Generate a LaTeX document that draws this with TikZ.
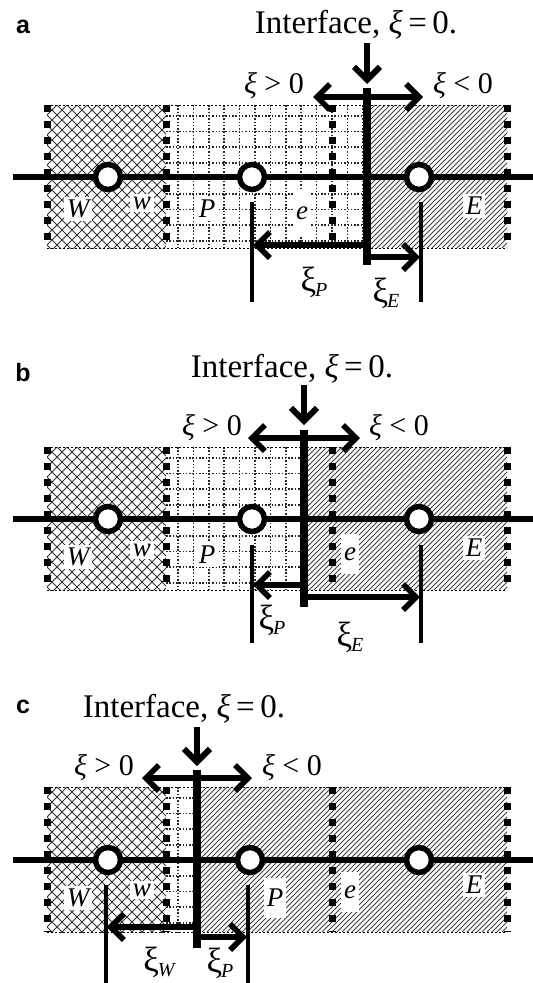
\documentclass[tikz,border=0pt]{standalone}
\usepackage{fontspec}
\setmainfont{Liberation Serif}
\newfontfamily\panelfont{Liberation Sans}
\usetikzlibrary{arrows.meta}

\newcommand\xiit{{\itshape ξ}}
\newcommand\xisub[1]{ξ\kern-1pt\raisebox{-5pt}{\fontsize{20}{20}\selectfont\itshape #1}}

% x1 y1 x2 y2 (y1 = top)
\newcommand\crossfill[4]{%
  \begin{scope}
    \clip (#1,#2) rectangle (#3,#4);
    \fill[white] (#1,#2) rectangle (#3,#4);
    \foreach \k in {-160,-150,...,300}{
      \draw[crossline] (#1+\k,#2) -- ++(160,160);
      \draw[crossline] (#1+\k,#2) -- ++(-160,160);
    }
  \end{scope}}
\newcommand\hatchfill[4]{%
  \begin{scope}
    \clip (#1,#2) rectangle (#3,#4);
    \fill[white] (#1,#2) rectangle (#3,#4);
    \foreach \k in {-160,-155,...,400}{
      \draw[hatchline] (#1+\k,#4) -- ++(170,-170);
    }
  \end{scope}}
\newcommand\gridfill[4]{%
  \begin{scope}
    \clip (#1,#2) rectangle (#3,#4);
    \fill[white] (#1,#2) rectangle (#3,#4);
    \foreach \i in {0,...,14}{
      \draw[gridline] (#1+12+15.4*\i,#2) -- ++(0,160);
    }
    \foreach \j in {0,...,8}{
      \draw[gridline] (#1,#2+11+15.6*\j) -- (#3,#2+11+15.6*\j);
    }
  \end{scope}}
\newcommand\faces[2]{% top bottom
  \draw[edgeline] (47,#1) -- (507,#1);
  \draw[edgeline] (47,#2) -- (507,#2);
  \foreach \fx in {47,166,332,507}{
    \draw[face] (\fx,#1) -- (\fx,#2);
  }}

\begin{document}
\begin{tikzpicture}[x=1pt,y=-1pt,
  >={Straight Barb[length=13pt,width=26pt]},
  mainline/.style={line width=6.5pt},
  ifline/.style={line width=8pt},
  arrline/.style={line width=5.5pt,->},
  darrline/.style={line width=5.5pt,<->},
  downarr/.style={line width=6pt,->},
  thinline/.style={line width=3.2pt},
  cnode/.style={circle,draw,line width=5.5pt,fill=white,minimum size=25pt,inner sep=0pt},
  lab/.style={fill=white,inner sep=3pt,font=\fontsize{27}{27}\selectfont\itshape},
  sublab/.style={inner sep=1pt,font=\fontsize{35}{35}\selectfont},
  ttl/.style={inner sep=0pt,font=\fontsize{33}{33}\selectfont,anchor=base},
  panellab/.style={inner sep=0pt,font=\fontsize{25}{25}\selectfont\panelfont\bfseries},
  signlab/.style={fill=white,inner sep=1pt,font=\fontsize{30}{30}\selectfont,anchor=base},
  face/.style={line width=7pt,dash pattern=on 7pt off 9pt},
  edgeline/.style={line width=0.8pt,dash pattern=on 2pt off 2pt},
  hatchline/.style={line width=1.0pt,black!75},
  crossline/.style={line width=0.8pt,black!80},
  gridline/.style={line width=1.5pt,black!85,dash pattern=on 1.5pt off 1.8pt},
]
\useasboundingbox (0,0) rectangle (533,983);
\fill[white] (0,0) rectangle (533,983);

%% ---------------- panel a ----------------
\crossfill{47}{105}{166}{248}
\gridfill{166}{105}{367}{248}
\hatchfill{367}{105}{507}{248}
\faces{105}{248}
\coordinate (aL) at (13,177);
\coordinate (aR) at (533,177);
\draw[mainline] (aL) -- (aR);
\coordinate (aIt) at (367,88);
\coordinate (aIb) at (367,265);
\draw[ifline] (aIt) -- (aIb);
\node[cnode] (aW) at (108,177) {};
\node[cnode] (aP) at (252,177) {};
\node[cnode] (aE) at (419,177) {};
\node[lab] (aWl) at (78,209) {W};
\node[lab] (awl) at (142,203) {w};
\node[lab] (aPl) at (207,209) {P};
\node[lab,minimum height=44pt] (ael) at (302,213) {e};
\node[lab] (aEl) at (474,206) {E};
\coordinate (aPv1) at (252,202);
\coordinate (aPv2) at (252,302);
\coordinate (aEv1) at (421,202);
\coordinate (aEv2) at (421,302);
\draw[thinline] (aPv1) -- (aPv2);
\draw[thinline] (aEv1) -- (aEv2);
\node[panellab] (alab) at (23,27) {a};
\node[ttl] (attl) at (356,33) {Interface, \xiit\,=\,0.};
\coordinate (aDa) at (367,43);
\coordinate (aDb) at (367,84);
\draw[downarr] (aDa) -- (aDb);
\node[signlab] (agt) at (274,93) {\xiit{} > 0};
\node[signlab] (alt) at (463,93) {\xiit{} < 0};
\coordinate (aAl) at (313,97);
\coordinate (aAr) at (423,97);
\draw[darrline] (aAl) -- (aAr);
\coordinate (aXp1) at (367,245);
\coordinate (aXp2) at (253,245);
\draw[arrline] (aXp1) -- (aXp2);
\coordinate (aXe1) at (367,257);
\coordinate (aXe2) at (420,257);
\draw[arrline] (aXe1) -- (aXe2);
\node[sublab] (axp) at (314,282) {\xisub{P}};
\node[sublab] (axe) at (386,293) {\xisub{E}};

%% ---------------- panel b ----------------
\crossfill{47}{447}{166}{590}
\gridfill{166}{447}{304}{590}
\hatchfill{304}{447}{507}{590}
\faces{447}{590}
\coordinate (bL) at (13,519);
\coordinate (bR) at (533,519);
\draw[mainline] (bL) -- (bR);
\coordinate (bIt) at (304,430);
\coordinate (bIb) at (304,607);
\draw[ifline] (bIt) -- (bIb);
\node[cnode] (bW) at (108,519) {};
\node[cnode] (bP) at (252,519) {};
\node[cnode] (bE) at (419,519) {};
\node[lab] (bWl) at (78,557) {W};
\node[lab] (bwl) at (142,550) {w};
\node[lab] (bPl) at (207,555) {P};
\node[lab,minimum height=40pt] (bel) at (350,554) {e};
\node[lab] (bEl) at (474,548) {E};
\coordinate (bPv1) at (252,545);
\coordinate (bPv2) at (252,643);
\coordinate (bEv1) at (421,545);
\coordinate (bEv2) at (421,643);
\draw[thinline] (bPv1) -- (bPv2);
\draw[thinline] (bEv1) -- (bEv2);
\node[panellab] (blab) at (23,373) {b};
\node[ttl] (bttl) at (292,377) {Interface, \xiit\,=\,0.};
\coordinate (bDa) at (304,385);
\coordinate (bDb) at (304,425);
\draw[downarr] (bDa) -- (bDb);
\node[signlab] (bgt) at (212,435) {\xiit{} > 0};
\node[signlab] (blt) at (399,435) {\xiit{} < 0};
\coordinate (bAl) at (248,438);
\coordinate (bAr) at (360,438);
\draw[darrline] (bAl) -- (bAr);
\coordinate (bXp1) at (304,585);
\coordinate (bXp2) at (253,585);
\draw[arrline] (bXp1) -- (bXp2);
\coordinate (bXe1) at (304,597);
\coordinate (bXe2) at (420,597);
\draw[arrline] (bXe1) -- (bXe2);
\node[sublab] (bxp) at (272,620) {\xisub{P}};
\node[sublab] (bxe) at (350,637) {\xisub{E}};

%% ---------------- panel c ----------------
\crossfill{47}{787}{166}{932}
\gridfill{166}{787}{197}{932}
\hatchfill{197}{787}{507}{932}
\faces{787}{932}
\coordinate (cL) at (13,860);
\coordinate (cR) at (533,860);
\draw[mainline] (cL) -- (cR);
\coordinate (cIt) at (197,770);
\coordinate (cIb) at (197,948);
\draw[ifline] (cIt) -- (cIb);
\node[cnode] (cW) at (108,860) {};
\node[cnode] (cP) at (250,860) {};
\node[cnode] (cE) at (419,860) {};
\node[lab] (cWl) at (78,898) {W};
\node[lab] (cwl) at (142,890) {w};
\node[lab,minimum height=40pt] (cPl) at (275,898) {P};
\node[lab,minimum height=40pt] (cel) at (350,892) {e};
\node[lab] (cEl) at (474,885) {E};
\coordinate (cWv1) at (106,885);
\coordinate (cWv2) at (106,983);
\coordinate (cPv1) at (248,885);
\coordinate (cPv2) at (248,983);
\draw[thinline] (cWv1) -- (cWv2);
\draw[thinline] (cPv1) -- (cPv2);
\node[panellab] (clab) at (23,707) {c};
\node[ttl] (cttl) at (184,717) {Interface, \xiit\,=\,0.};
\coordinate (cDa) at (197,727);
\coordinate (cDb) at (197,766);
\draw[downarr] (cDa) -- (cDb);
\node[signlab] (cgt) at (104,775) {\xiit{} > 0};
\node[signlab] (clt) at (292,775) {\xiit{} < 0};
\coordinate (cAl) at (142,778);
\coordinate (cAr) at (252,778);
\draw[darrline] (cAl) -- (cAr);
\coordinate (cXw1) at (197,927);
\coordinate (cXw2) at (107,927);
\draw[arrline] (cXw1) -- (cXw2);
\coordinate (cXp1) at (197,937);
\coordinate (cXp2) at (247,937);
\draw[arrline] (cXp1) -- (cXp2);
\node[sublab] (cxw) at (159,962) {\xisub{W}};
\node[sublab] (cxp) at (220,963) {\xisub{P}};
\end{tikzpicture}
\end{document}
